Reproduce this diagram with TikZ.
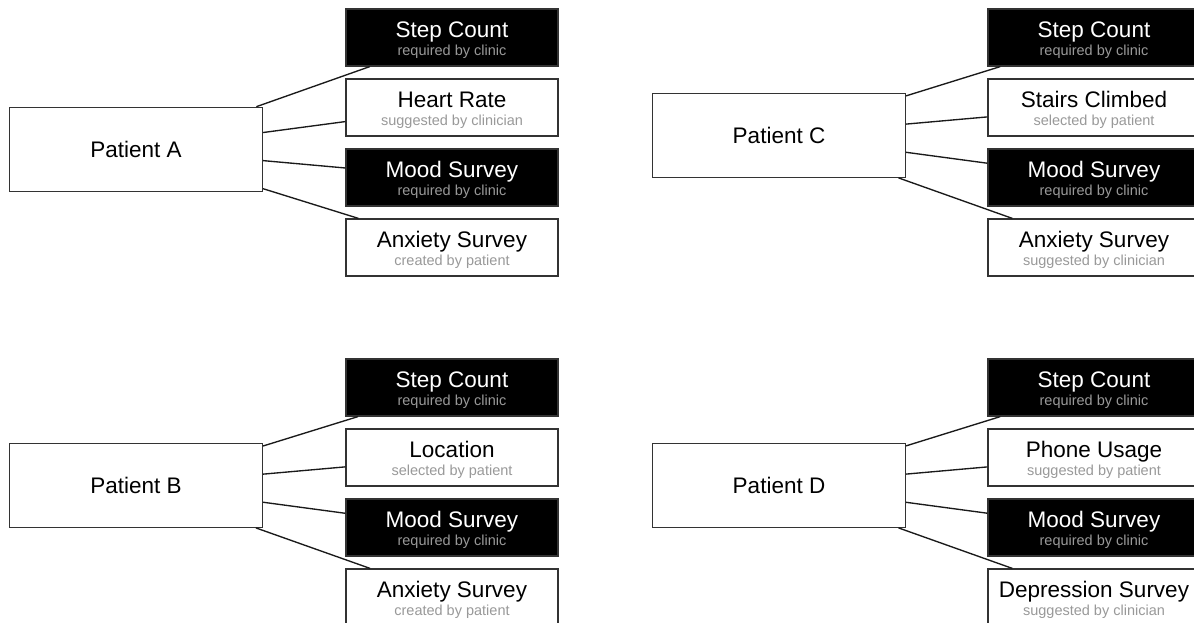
\documentclass[tikz,border=0pt]{standalone}
\usepackage{fontspec}
\setmainfont{Liberation Sans}
\definecolor{boxline}{HTML}{333333}
\definecolor{linkline}{HTML}{1A1A1A}
\definecolor{subgray}{HTML}{999999}
\tikzset{
  patient/.style={draw=boxline, line width=1.2pt, fill=white, inner sep=0pt,
    minimum width=253pt, minimum height=84pt,
    font=\fontsize{22.5}{27}\selectfont},
  reqbox/.style={draw=boxline, line width=1.2pt, fill=black, inner sep=0pt,
    minimum width=212pt, minimum height=57pt},
  optbox/.style={draw=boxline, line width=1.2pt, fill=white, inner sep=0pt,
    minimum width=212pt, minimum height=57pt},
  reqboxtext/.style={text=white},
  optboxtext/.style={text=black},
  itemtitle/.style={anchor=base, inner sep=0pt, font=\fontsize{22.5}{27}\selectfont},
  itemsub/.style={anchor=base, inner sep=0pt, text=subgray, font=\fontsize{14.5}{17}\selectfont},
  link/.style={draw=linkline, line width=1.35pt},
}
% one item box: name, kind (reqbox/optbox), x, y, title, subtitle
\newcommand{\drawitem}[6]{%
  \node[#2] (#1) at (#3,#4) {};
  \node[itemtitle, #2text] (#1-t) at (#1.center) {#5};
  \node[itemsub] (#1-s) at ([yshift=-18pt]#1.center) {#6};
}
\begin{document}
\begin{tikzpicture}[x=1pt, y=-1pt]
\clip (0,0) rectangle (1194,623);
\fill[white] (0,0) rectangle (1194,623);

% Patient A
\node[patient] (pa) at (136,149.3) {Patient A};
\drawitem{a1}{reqbox}{452}{37.5}{Step Count}{required by clinic}
\drawitem{a2}{optbox}{452}{107.5}{Heart Rate}{suggested by clinician}
\drawitem{a3}{reqbox}{452}{177.5}{Mood Survey}{required by clinic}
\drawitem{a4}{optbox}{452}{247.5}{Anxiety Survey}{created by patient}
\foreach \i in {1,...,4} \draw[link] (pa) -- (a\i);

% Patient C
\node[patient] (pc) at (779,135.3) {Patient C};
\drawitem{c1}{reqbox}{1094}{37.5}{Step Count}{required by clinic}
\drawitem{c2}{optbox}{1094}{107.5}{Stairs Climbed}{selected by patient}
\drawitem{c3}{reqbox}{1094}{177.5}{Mood Survey}{required by clinic}
\drawitem{c4}{optbox}{1094}{247.5}{Anxiety Survey}{suggested by clinician}
\foreach \i in {1,...,4} \draw[link] (pc) -- (c\i);

% Patient B
\node[patient] (pb) at (136,485.3) {Patient B};
\drawitem{b1}{reqbox}{452}{387.5}{Step Count}{required by clinic}
\drawitem{b2}{optbox}{452}{457.5}{Location}{selected by patient}
\drawitem{b3}{reqbox}{452}{527.5}{Mood Survey}{required by clinic}
\drawitem{b4}{optbox}{452}{597.5}{Anxiety Survey}{created by patient}
\foreach \i in {1,...,4} \draw[link] (pb) -- (b\i);

% Patient D
\node[patient] (pd) at (779,485.3) {Patient D};
\drawitem{d1}{reqbox}{1094}{387.5}{Step Count}{required by clinic}
\drawitem{d2}{optbox}{1094}{457.5}{Phone Usage}{suggested by patient}
\drawitem{d3}{reqbox}{1094}{527.5}{Mood Survey}{required by clinic}
\drawitem{d4}{optbox}{1094}{597.5}{Depression Survey}{suggested by clinician}
\foreach \i in {1,...,4} \draw[link] (pd) -- (d\i);
\end{tikzpicture}
\end{document}
